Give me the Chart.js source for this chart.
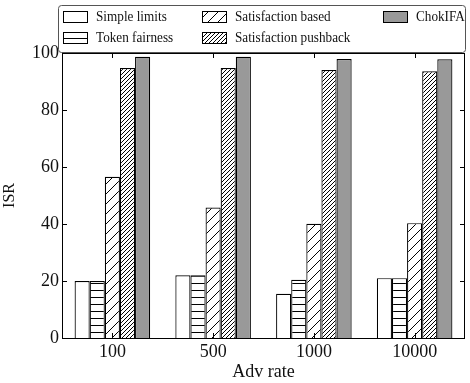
<!DOCTYPE html>
<html>
<head>
<meta charset="utf-8">
<script src="https://cdn.jsdelivr.net/npm/chart.js@4"></script>
<style>
  html, body { margin: 0; padding: 0; background: #fff; }
  #wrap { width: 470px; height: 383px; }
</style>
</head>
<body>
<div id="wrap"><canvas id="chart" width="470" height="383"></canvas></div>
<script>
// Data
const rates = ["100", "500", "1000", "10000"];
const simpleLimits = [20, 22, 15.5, 21];
const tokenFairness = [20, 22, 20.4, 21];
const satisfactionBased = [56.6, 45.8, 40.1, 40.3];
const satisfactionPushback = [94.7, 94.7, 94.0, 93.6];
const chokifa = [98.7, 98.7, 97.9, 97.8];
const yTicks = [0, 20, 40, 60, 80, 100];

const FONT = "'Liberation Serif', 'DejaVu Serif', serif";

// hatch patterns
function makePattern(kind) {
  const c = document.createElement("canvas");
  const ctx = c.getContext("2d");
  let s = 8;
  if (kind === "horiz") s = 7;
  if (kind === "diag") s = 10;
  if (kind === "dense") s = 4;
  c.width = s;
  c.height = s;
  ctx.fillStyle = "#fff";
  ctx.fillRect(0, 0, s, s);
  ctx.strokeStyle = "#000";
  ctx.lineWidth = 1;
  ctx.beginPath();
  if (kind === "horiz") {
    ctx.moveTo(0, 3.5);
    ctx.lineTo(s, 3.5);
  } else {
    ctx.moveTo(0, s);
    ctx.lineTo(s, 0);
    ctx.moveTo(-1, 1);
    ctx.lineTo(1, -1);
    ctx.moveTo(s - 1, s + 1);
    ctx.lineTo(s + 1, s - 1);
  }
  ctx.stroke();
  return ctx.createPattern(c, "repeat");
}

const datasets = [
  { label: "Simple limits", data: simpleLimits, backgroundColor: "#fff" },
  { label: "Token fairness", data: tokenFairness, backgroundColor: makePattern("horiz") },
  { label: "Satisfaction based", data: satisfactionBased, backgroundColor: makePattern("diag") },
  { label: "Satisfaction pushback", data: satisfactionPushback, backgroundColor: makePattern("dense") },
  { label: "ChokIFA", data: chokifa, backgroundColor: "#999" },
].map((d) => ({
  ...d,
  borderColor: "#000",
  borderWidth: 1.2,
  borderSkipped: "bottom",
  categoryPercentage: 0.75,
  barPercentage: 1.0,
}));

// frame, inward ticks and the legend box
const framePlugin = {
  id: "frame",
  afterDraw(chart) {
    const { ctx, chartArea: a, scales } = chart;
    ctx.save();
    ctx.strokeStyle = "#000";
    ctx.lineWidth = 1;
    ctx.strokeRect(a.left + 0.5, a.top + 0.5, a.right - a.left - 1, a.bottom - a.top);
    ctx.beginPath();
    yTicks.forEach((v) => {
      const y = Math.round(scales.y.getPixelForValue(v)) + 0.5;
      ctx.moveTo(a.left, y);
      ctx.lineTo(a.left + 5, y);
      ctx.moveTo(a.right, y);
      ctx.lineTo(a.right - 5, y);
    });
    rates.forEach((r, i) => {
      const x = Math.round(scales.x.getPixelForValue(i)) + 0.5;
      ctx.moveTo(x, a.top);
      ctx.lineTo(x, a.top + 5);
      ctx.moveTo(x, a.bottom);
      ctx.lineTo(x, a.bottom - 5);
    });
    ctx.stroke();

    // legend
    const bx = 58.5, by = 5.5, bw = 407, bh = 47;
    ctx.fillStyle = "#fff";
    ctx.strokeStyle = "#555";
    ctx.beginPath();
    ctx.roundRect(bx, by, bw, bh, 3);
    ctx.fill();
    ctx.stroke();
    const colX = [63, 202, 383];
    const rowY = [16, 37];
    ctx.font = "15px " + FONT;
    ctx.textBaseline = "middle";
    chart.data.datasets.forEach((ds, i) => {
      const col = Math.floor(i / 2);
      const row = i % 2;
      const x = colX[col], y = rowY[row];
      ctx.fillStyle = ds.backgroundColor;
      ctx.fillRect(x, y - 5, 24, 11);
      ctx.strokeStyle = "#000";
      ctx.lineWidth = 1;
      ctx.strokeRect(x + 0.5, y - 5 + 0.5, 24, 11);
      ctx.fillStyle = "#111";
      // the original legend face is narrower, squeeze it a bit
      ctx.save();
      ctx.translate(x + 33, y + 1);
      ctx.scale(0.88, 1);
      ctx.fillText(ds.label, 0, 0);
      ctx.restore();
    });
    ctx.restore();
  },
};

new Chart(document.getElementById("chart"), {
  type: "bar",
  data: { labels: rates, datasets },
  plugins: [framePlugin],
  options: {
    responsive: false,
    animation: false,
    layout: { padding: { top: 53, right: 5, left: 0, bottom: 0 } },
    plugins: { legend: { display: false }, tooltip: { enabled: false } },
    scales: {
      x: {
        offset: true,
        grid: { display: false, drawTicks: false },
        border: { display: false },
        ticks: { color: "#111", font: { family: FONT, size: 18 }, padding: 3 },
        title: {
          display: true,
          text: "Adv rate",
          color: "#111",
          font: { family: FONT, size: 18 },
          padding: { top: 0, bottom: 0 },
        },
        afterFit(scale) { scale.height = 45; },
      },
      y: {
        min: 0,
        max: 100,
        afterBuildTicks(scale) { scale.ticks = yTicks.map((v) => ({ value: v })); },
        grid: { display: false, drawTicks: false },
        border: { display: false },
        ticks: { color: "#111", font: { family: FONT, size: 18 }, padding: 3 },
        title: {
          display: true,
          text: "ISR",
          color: "#111",
          font: { family: FONT, size: 16 },
          padding: { top: 0, bottom: 4 },
        },
        afterFit(scale) { scale.width = 62; },
      },
    },
  },
});
</script>
</body>
</html>
